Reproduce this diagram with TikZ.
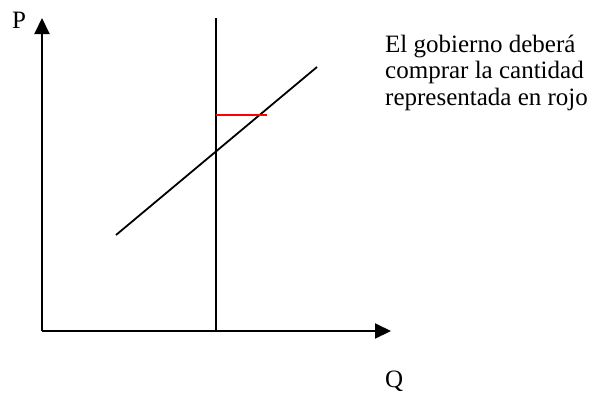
\documentclass[tikz,border=0pt]{standalone}
\usepackage{fontspec}
\setmainfont{Liberation Serif}
\usetikzlibrary{arrows.meta,positioning}

\begin{document}
\begin{tikzpicture}[
  x=1pt, y=-1pt,
  axis/.style={-{Triangle[length=16pt, width=15pt]}, line width=2pt},
  curve/.style={line width=1.8pt},
  lbl/.style={font=\fontsize{25}{26.5}\selectfont, inner sep=0pt, anchor=base west},
  note/.style={font=\fontsize{25}{26.5}\selectfont, align=left, inner sep=0pt, anchor=base west}
]
\useasboundingbox (0,0) rectangle (603,399);
\coordinate (o) at (42,331);
\coordinate (ptop) at (42,18);
\coordinate (qend) at (391,331);
\coordinate (vtop) at (216,18);
\coordinate (vbot) at (216,331);
\coordinate (slo) at (116,235);
\coordinate (shi) at (317,67);
\coordinate (rl) at (216,115);
\coordinate (rr) at (267,115);
\node[lbl] (p) at (12,28) {P};
\node[lbl] (q) at (385,387) {Q};
\node[note] (txt) at (385,105) {El gobierno deberá\\comprar la cantidad\\representada en rojo};
\draw[axis] (o) -- (ptop);
\draw[axis] (o) -- (qend);
\draw[curve] (vbot) -- (vtop);
\draw[curve] (slo) -- (shi);
\draw[curve, red] (rl) -- (rr);
\end{tikzpicture}
\end{document}
